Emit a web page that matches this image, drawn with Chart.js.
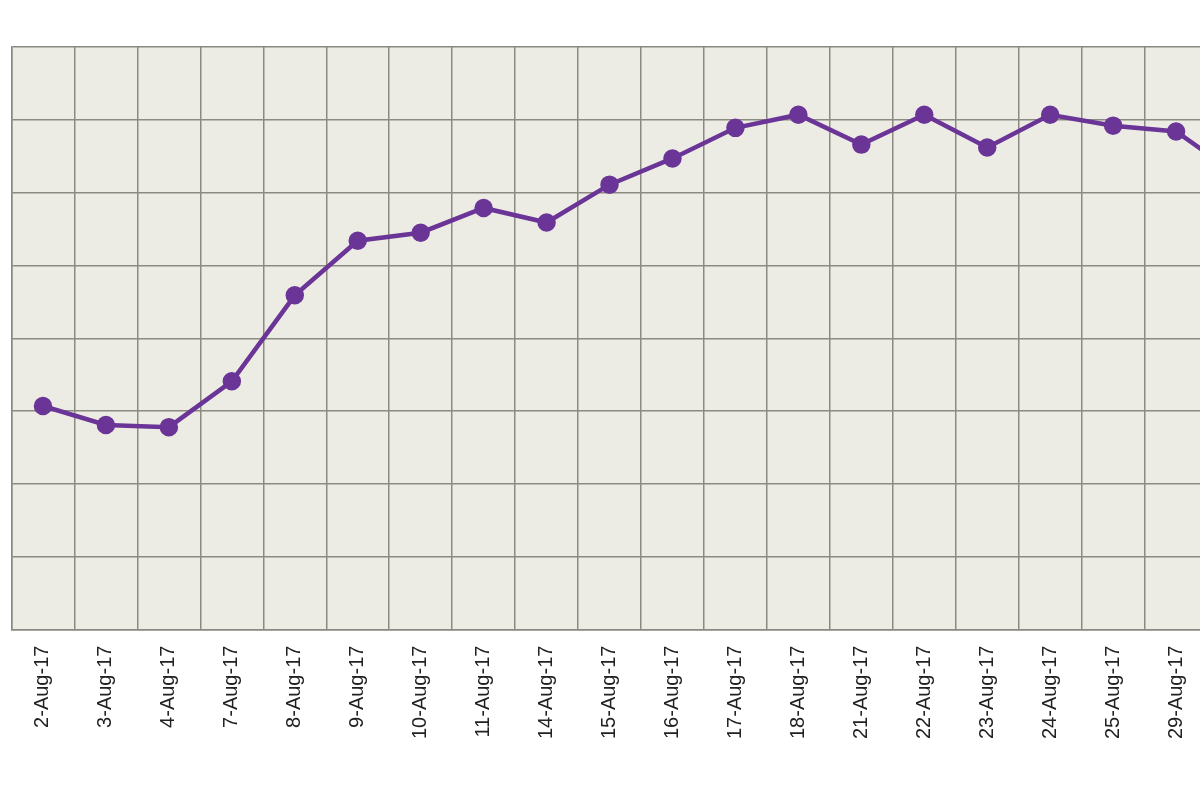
<!DOCTYPE html>
<html><head><meta charset="utf-8">
<script src="https://cdn.jsdelivr.net/npm/chart.js@4"></script>
<style>html,body{margin:0;padding:0;overflow:hidden;background:#fff}#w{width:1282px;height:800px}</style>
</head><body><div id="w"><canvas id="c"></canvas></div>
<script>
const categories = ["2-Aug-17","3-Aug-17","4-Aug-17","7-Aug-17","8-Aug-17","9-Aug-17","10-Aug-17","11-Aug-17","14-Aug-17","15-Aug-17","16-Aug-17","17-Aug-17","18-Aug-17","21-Aug-17","22-Aug-17","23-Aug-17","24-Aug-17","25-Aug-17","29-Aug-17","30-Aug-17"];
const values = [3.07,2.81,2.78,3.41,4.59,5.34,5.45,5.79,5.59,6.11,6.47,6.89,7.07,6.66,7.07,6.62,7.07,6.92,6.84,6.23];
const bgPlugin = {id:'bg',beforeDraw(ch){const a=ch.chartArea,x=ch.ctx;x.save();x.fillStyle='#edece4';x.fillRect(a.left,a.top,a.right-a.left,a.bottom-a.top);x.restore();}};
new Chart(document.getElementById('c'),{
  type:'line',
  data:{labels:categories,datasets:[{data:values,borderColor:'#6a3597',backgroundColor:'#6a3597',borderWidth:4.5,pointRadius:7,pointHoverRadius:7,tension:0}]},
  options:{responsive:true,maintainAspectRatio:false,animation:false,
    layout:{padding:{top:47,left:10,right:0,bottom:45}},
    plugins:{legend:{display:false},tooltip:{enabled:false}},
    scales:{
      x:{offset:true,grid:{offset:true,color:'#8a8a80',lineWidth:1.5,drawTicks:false},border:{color:'#8a8a80',width:1.5},
         ticks:{color:'#222',font:{family:'Liberation Sans',size:20},minRotation:90,maxRotation:90,padding:16,autoSkip:false}},
      y:{min:0,max:8,grid:{color:'#8a8a80',lineWidth:1.5,drawTicks:false},border:{color:'#8a8a80',width:1.5},ticks:{display:false,stepSize:1}}
    }},
  plugins:[bgPlugin]
});
</script></body></html>
